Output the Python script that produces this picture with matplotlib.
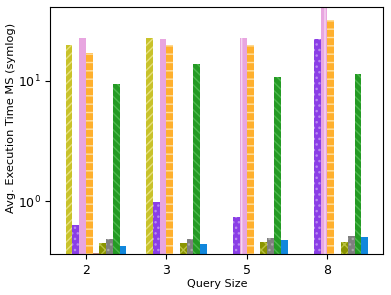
import numpy as np
import matplotlib
matplotlib.use('Agg')
import matplotlib.pyplot as plt

# query sizes on the x axis
query_sizes = ['2', '3', '5', '8']

# avg execution time (ms) per method, one list per series
s_yellow = [20.0, 22.9, 0.0, 0.0]
s_purple = [0.63, 0.99, 0.735, 22.4]
s_pink = [22.9, 22.4, 22.7, 40.5]
s_orange = [17.1, 20.0, 20.0, 32.2]
s_brown = [0.367, 0.0, 0.0, 0.0]
s_olive = [0.447, 0.447, 0.455, 0.46]
s_gray = [0.485, 0.485, 0.49, 0.508]
s_green = [9.38, 13.8, 10.8, 11.4]
s_blue = [0.42, 0.438, 0.476, 0.5]

series = [s_yellow, s_purple, s_pink, s_orange, s_brown,
          s_olive, s_gray, s_green, s_blue]
colors = ['#c8c22a', '#8a3ee6', '#e8a6e0', '#ffb02e', '#c08a80',
          '#8a9400', '#7f7f7f', '#249a24', '#1187dc']
hatch_colors = ['#e6e07a', '#b88af0', '#f6d6f2', '#ffe0a0', '#e0c0b8',
                '#b8c040', '#a8a8a8', '#4cb84c', '#1187dc']
hatches = ['////', '...', '|', '--', '', 'xxx', '...', '\\\\\\\\', '']

ind = np.arange(len(query_sizes))
width = 0.084

plt.rcParams['hatch.linewidth'] = 1.0
fig, ax = plt.subplots(figsize=(3.91, 2.95), dpi=100)
fig.subplots_adjust(left=0.129, right=0.98, top=0.977, bottom=0.139)

for i, vals in enumerate(series):
    ax.bar(ind + (i - 3) * width, vals, width, align='edge',
           color=colors[i], edgecolor=hatch_colors[i], linewidth=0,
           hatch=hatches[i])

ax.set_yscale('symlog', linthresh=0.1)
ax.set_ylim(0.362, 41.5)
ax.set_xticks(ind)
ax.set_xticklabels(query_sizes)
ax.tick_params(labelsize=9)
ax.set_xlabel('Query Size', fontsize=8, labelpad=2)
ax.set_ylabel('Avg. Execution Time MS (symlog)', fontsize=8.2)
ax.yaxis.set_label_coords(-0.104, 0.55)

fig.savefig('out.png', dpi=100)
